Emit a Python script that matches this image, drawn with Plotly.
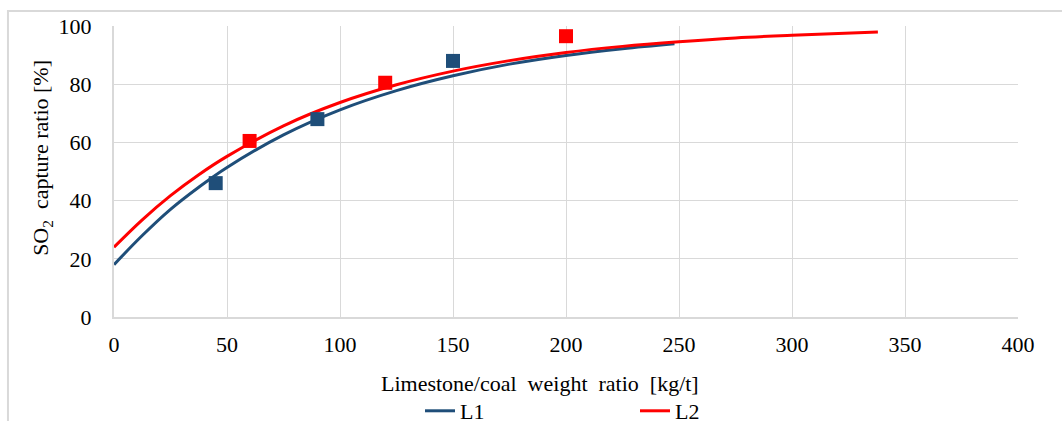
import plotly.graph_objects as go

# Measured points
l1_x = [45, 90, 150]
l1_y = [46, 68, 88]
l2_x = [60, 120, 200]
l2_y = [60.5, 80.5, 96.5]

# Fitted trend curves
l1_fit_x = [0, 12.5, 25, 37.5, 50, 75, 100, 125, 150, 175, 200, 225, 248]
l1_fit_y = [18, 28, 37, 44.6, 51.4, 62.6, 71.2, 77.8, 82.9, 86.9, 89.9, 92.2, 93.9]
l2_fit_x = [0, 12.5, 25, 37.5, 50, 75, 100, 125, 150, 175, 200, 225, 250, 275, 300, 338]
l2_fit_y = [24, 33.4, 41.7, 48.9, 55.2, 65.7, 73.7, 79.8, 84.5, 88.1, 90.9, 93, 94.6, 95.9, 96.8, 97.9]

x_ticks = [0, 50, 100, 150, 200, 250, 300, 350, 400]
y_ticks = [0, 20, 40, 60, 80, 100]

BLUE = "#1f4e79"
RED = "#ff0000"
FONT = "Liberation Serif"
GRID = "#d9d9d9"
FS = 22
NB = "\u00a0"

fig = go.Figure()
fig.add_trace(go.Scatter(x=l1_fit_x, y=l1_fit_y, mode="lines", name="L1",
                         line=dict(color=BLUE, width=3, shape="spline")))
fig.add_trace(go.Scatter(x=l2_fit_x, y=l2_fit_y, mode="lines", name="L2",
                         line=dict(color=RED, width=3, shape="spline")))
fig.add_trace(go.Scatter(x=l1_x, y=l1_y, mode="markers", showlegend=False,
                         marker=dict(symbol="square", size=14, color=BLUE)))
fig.add_trace(go.Scatter(x=l2_x, y=l2_y, mode="markers", showlegend=False,
                         marker=dict(symbol="square", size=14, color=RED)))

fig.update_layout(
    width=1062, height=421,
    margin=dict(l=114, r=44, t=26, b=104, autoexpand=False),
    paper_bgcolor="white", plot_bgcolor="white",
    font=dict(family=FONT, size=FS, color="#000000"),
    showlegend=True,
    legend=dict(orientation="h", x=0.3385, y=-0.323, xanchor="left", yanchor="middle",
                entrywidth=170, entrywidthmode="pixels",
                font=dict(family=FONT, size=FS), bgcolor="rgba(0,0,0,0)"),
    xaxis=dict(range=[0, 400], tickvals=x_ticks, showgrid=True, gridcolor=GRID, gridwidth=1,
               showline=True, linecolor=GRID, linewidth=2, mirror=False, zeroline=False,
               ticks="", ticklabelstandoff=7, tickfont=dict(family=FONT, size=FS)),
    yaxis=dict(range=[0, 100], tickvals=y_ticks, showgrid=True, gridcolor=GRID, gridwidth=1,
               showline=True, linecolor=GRID, linewidth=2, zeroline=False,
               ticks="", ticklabelstandoff=16, tickfont=dict(family=FONT, size=FS)),
    annotations=[
        dict(text=f"Limestone/coal {NB}weight {NB}ratio {NB}[kg/t]", xref="paper", yref="paper",
             x=0.471, y=-0.228, xanchor="center", yanchor="middle", showarrow=False,
             font=dict(family=FONT, size=FS)),
        dict(text=f"SO<sub>2</sub> {NB}capture ratio [%]", xref="paper", yref="paper",
             x=-0.0796, y=0.547, xanchor="center", yanchor="middle", showarrow=False,
             textangle=-90, font=dict(family=FONT, size=FS)),
    ],
    shapes=[
        dict(type="rect", xref="paper", yref="paper", x0=-0.1173, y0=-0.4, x1=1.06, y1=1.0515,
             line=dict(color=GRID, width=2), fillcolor="rgba(0,0,0,0)", layer="below"),
    ],
)

fig.write_html("out.html")
